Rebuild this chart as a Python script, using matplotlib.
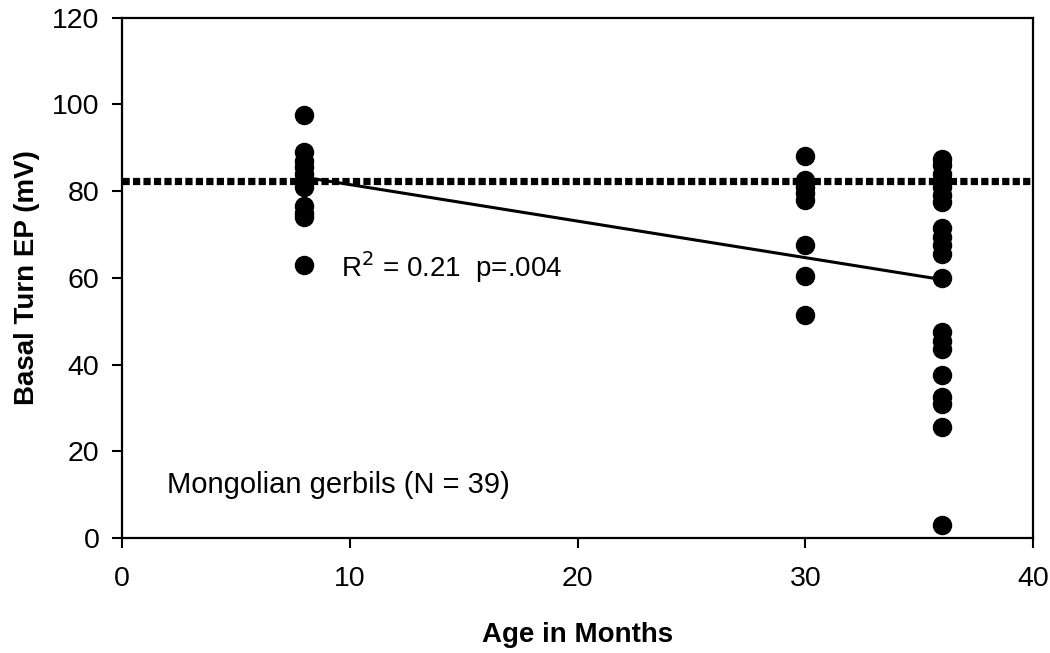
import matplotlib
matplotlib.use('Agg')
import matplotlib.pyplot as plt

plt.rcParams['font.family'] = ['Liberation Sans', 'DejaVu Sans']

# EP values (mV), one list per age group
age_8 = [97.5, 89, 87, 85.5, 84, 82.5, 81, 76.5, 75, 74, 63]
age_30 = [88, 82.5, 81, 79.5, 78, 67.5, 60.5, 51.5]
age_36 = [87.5, 86, 84, 82.5, 81, 79, 77.5,
          71.5, 69.5, 67.5, 65.5, 60,
          47.5, 45.5, 43.5, 37.5, 32.5, 31, 25.5, 3]

# regression line ends and the mean line
fit_x = [8, 36]
fit_y = [83.2, 59.6]
mean_x = [0, 40]
mean_y = [82.3, 82.3]

xs = [8] * len(age_8) + [30] * len(age_30) + [36] * len(age_36)
ys = age_8 + age_30 + age_36

fig = plt.figure(figsize=(10.5, 6.53), dpi=100)
ax = fig.add_axes([0.116, 0.176, 0.868, 0.797])

ax.plot(mean_x, mean_y, color='black', linewidth=5.2, linestyle=(0, (1, 0.45)),
        dash_capstyle='butt', zorder=2)
ax.plot(fit_x, fit_y, color='black', linewidth=2.2, zorder=2)
ax.plot(xs, ys, 'o', color='black', markersize=13, zorder=3)

ax.text(9.6, 62.4, r'R$^2$ = 0.21  p=.004', fontsize=20, va='center', ha='left')
ax.text(2.0, 12.3, 'Mongolian gerbils (N = 39)', fontsize=21, va='center', ha='left')

ax.set_xlim(0, 40)
ax.set_ylim(0, 120)
ax.set_xticks([0, 10, 20, 30, 40])
ax.set_yticks([0, 20, 40, 60, 80, 100, 120])
ax.tick_params(direction='out', length=7, width=1.5, labelsize=20.5)
ax.tick_params(axis='x', pad=13)
ax.tick_params(axis='y', pad=9)
for sp in ax.spines.values():
    sp.set_linewidth(1.6)

ax.set_xlabel('Age in Months', fontsize=20, fontweight='bold', labelpad=22)
ax.set_ylabel('Basal Turn EP (mV)', fontsize=20, fontweight='bold', labelpad=9)

fig.savefig('out.png', dpi=100)
